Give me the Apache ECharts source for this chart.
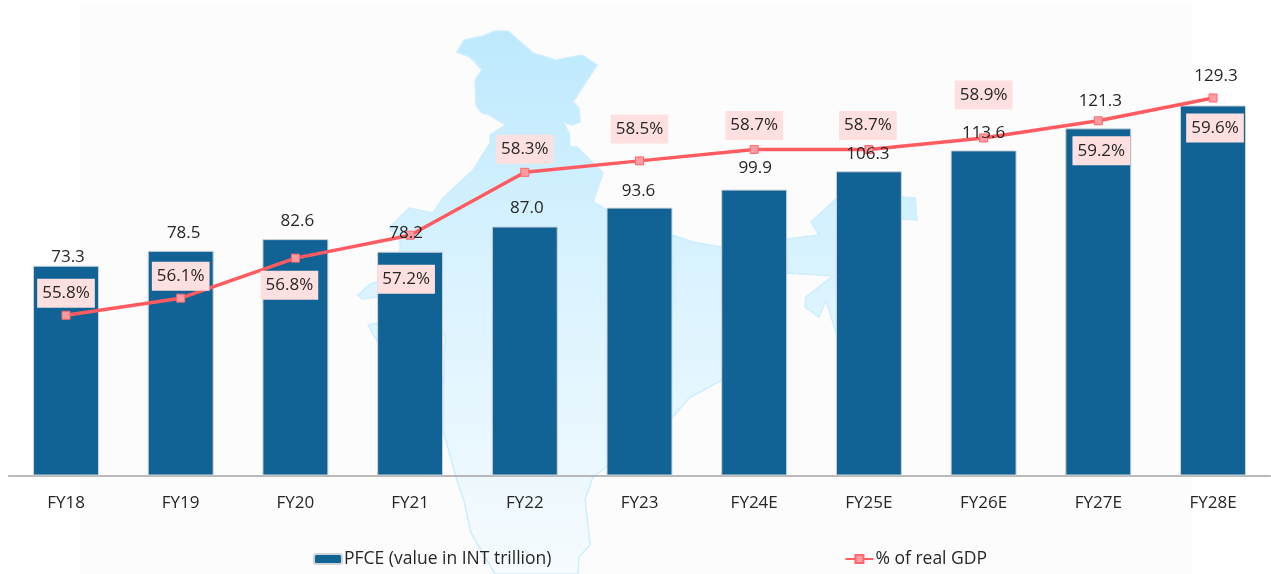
<!DOCTYPE html>
<html>
<head>
<meta charset="utf-8">
<title>PFCE</title>
<style>
  html, body { margin: 0; padding: 0; background: #fff; }
  #chart { width: 1271px; height: 574px; }
</style>
<script src="https://cdn.jsdelivr.net/npm/echarts@6/dist/echarts.min.js"></script>
</head>
<body>
<div id="chart"></div>
<script>
const categories = ['FY18', 'FY19', 'FY20', 'FY21', 'FY22', 'FY23', 'FY24E', 'FY25E', 'FY26E', 'FY27E', 'FY28E'];
const pfceValues = [73.3, 78.5, 82.6, 78.2, 87.0, 93.6, 99.9, 106.3, 113.6, 121.3, 129.3];
const gdpShare = [55.8, 56.1, 56.8, 57.2, 58.3, 58.5, 58.7, 58.7, 58.9, 59.2, 59.6];

// hand placed label nudges, the source chart moved them around
const pfceLabelOffsets = [[2, 0], [3, -9], [2, -9], [-4, -10], [2, -9], [-1, -7], [1, -12], [-1, -8], [0, -8], [2, -18], [3, -20]];
const shareLabelOffsets = [[0, -22], [0, -22], [-6, 27], [-4, 44], [0, -23], [0, -32], [0, -24], [-1, -24], [0, -43], [3, 30], [2, 30]];

// decorative backdrop outline, not data
const mapOutline = [
  [457, 52], [464, 40], [483, 36], [495, 31], [508, 31], [533, 53], [556, 60], [582, 55], [597, 65],
  [573, 102], [579, 108], [580, 122], [572, 125], [563, 122], [569, 133], [570, 147], [577, 147],
  [603, 173], [593, 202], [607, 210], [672, 235], [693, 242], [721, 247], [787, 239], [819, 235],
  [811, 222], [837, 198], [901, 197], [915, 198], [917, 220], [901, 219], [870, 250], [836, 333],
  [826, 300], [819, 317], [805, 307], [806, 297], [833, 276], [787, 273], [760, 275], [745, 340],
  [722, 380], [689, 398], [672, 418], [593, 477], [585, 499], [590, 545], [579, 557], [578, 574],
  [495, 574], [471, 533], [464, 501], [456, 477], [443, 430], [444, 363], [445, 334], [378, 343],
  [368, 325], [377, 323], [385, 322], [385, 300], [377, 297], [362, 299], [358, 295], [370, 284],
  [385, 280], [400, 250], [400, 238], [389, 228], [409, 208], [433, 213], [443, 198], [473, 170],
  [490, 143], [490, 135], [506, 125], [488, 114], [482, 113], [476, 105], [475, 80], [482, 70], [470, 57]
];

const textColor = '#262626';
const fontFamily = '"Open Sans", sans-serif';

let chart = echarts.init(document.getElementById('chart'));

let option = {
  animation: false,
  backgroundColor: '#fff',
  textStyle: { fontFamily: fontFamily, color: textColor },
  graphic: [
    {
      type: 'rect',
      silent: true,
      z: -2,
      shape: { x: 80, y: 5, width: 1112, height: 569 },
      style: { fill: '#fcfcfc' }
    },
    {
      type: 'polygon',
      silent: true,
      z: -1,
      shape: { points: mapOutline },
      style: {
        fill: new echarts.graphic.LinearGradient(0, 0, 0, 1, [
          { offset: 0, color: '#bde9fd' },
          { offset: 0.45, color: '#daf3ff' },
          { offset: 1, color: '#f6fbfe' }
        ]),
        stroke: '#cdeefe',
        lineWidth: 1.5
      }
    }
  ],
  legend: {
    left: 313,
    top: 550,
    padding: 0,
    itemWidth: 28,
    itemHeight: 10,
    itemGap: 293,
    textStyle: { fontFamily: fontFamily, fontSize: 17.5, color: textColor, padding: [0, 0, 0, -3] },
    data: ['PFCE (value in INT trillion)', '% of real GDP']
  },
  grid: { left: 8.65, right: 0.65, top: 5, bottom: 98.5 },
  xAxis: {
    type: 'category',
    data: categories,
    axisTick: { show: false },
    axisLine: { lineStyle: { color: '#a3a3a3', width: 1.5 } },
    axisLabel: { fontFamily: fontFamily, fontSize: 17, color: textColor, margin: 19 }
  },
  yAxis: [
    { type: 'value', min: 0, max: 164.4, show: false, splitLine: { show: false } },
    { type: 'value', min: 53, max: 61.225, show: false, splitLine: { show: false } }
  ],
  series: [
    {
      name: 'PFCE (value in INT trillion)',
      type: 'bar',
      barWidth: '57.5%',
      barGap: '-100%',
      itemStyle: { color: '#116295', borderColor: '#ced3d7', borderWidth: 1 },
      data: pfceValues
    },
    {
      name: '% of real GDP',
      type: 'line',
      yAxisIndex: 1,
      z: 5,
      symbol: 'rect',
      symbolSize: 8,
      lineStyle: { color: '#ff5b60', width: 3.5 },
      itemStyle: { color: '#ff9ca1', borderColor: '#ff666c', borderWidth: 1 },
      data: gdpShare.map((value, i) => ({
        value: value,
        label: { offset: shareLabelOffsets[i] }
      })),
      label: {
        show: true,
        position: 'inside',
        fontFamily: fontFamily,
        fontSize: 17,
        lineHeight: 19,
        color: textColor,
        backgroundColor: '#ffe0e1',
        padding: [5, 5, 5, 5],
        formatter: (p) => p.value.toFixed(1) + '%'
      }
    },
    {
      // invisible copy of the bars, only so the value labels sit over the line
      name: 'PFCE labels',
      type: 'bar',
      barWidth: '57.5%',
      barGap: '-100%',
      z: 10,
      silent: true,
      itemStyle: { color: 'transparent' },
      data: pfceValues.map((value, i) => ({
        value: value,
        label: { offset: pfceLabelOffsets[i] }
      })),
      label: {
        show: true,
        position: 'top',
        distance: 0,
        fontFamily: fontFamily,
        fontSize: 17,
        lineHeight: 18,
        color: textColor,
        formatter: (p) => p.value.toFixed(1)
      }
    }
  ]
};

chart.setOption(option);
</script>
</body>
</html>
